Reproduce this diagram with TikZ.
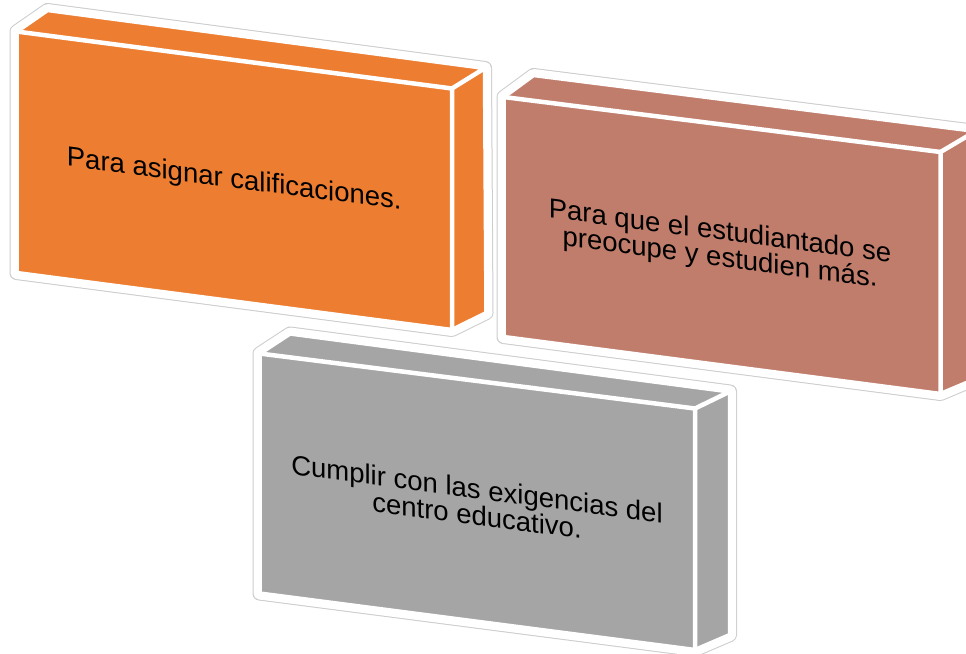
\documentclass[tikz,border=0pt]{standalone}
\usepackage{fontspec}
\setmainfont{Liberation Sans}
\definecolor{boxorange}{RGB}{237,125,49}
\definecolor{boxrose}{RGB}{192,125,108}
\definecolor{boxgray}{RGB}{165,165,165}
\tikzset{
  boxhalo/.style={draw=black!20, line width=14pt, line join=round},
  boxhaloin/.style={draw=white, line width=12pt, line join=round},
  boxedge/.style={draw=white, line width=4.5pt, line join=round},
  boxlabel/.style={font=\fontsize{27.5}{26.5}\selectfont, text=black, align=center,
    inner sep=0pt, yslant=-0.1307, transform shape}
}
\newcommand{\cubebox}[2]{%
  \path[boxhalo] (#1btl) -- (#1btr) -- (#1bbr) -- (#1fbr) -- (#1fbl) -- (#1ftl) -- cycle;
  \path[boxhaloin] (#1btl) -- (#1btr) -- (#1bbr) -- (#1fbr) -- (#1fbl) -- (#1ftl) -- cycle;
  \fill[#2] (#1btl) -- (#1btr) -- (#1bbr) -- (#1fbr) -- (#1fbl) -- (#1ftl) -- cycle;
  \path[boxedge] (#1ftl) -- (#1ftr) -- (#1fbr) -- (#1fbl) -- cycle;
  \path[boxedge] (#1ftl) -- (#1btl) -- (#1btr) -- (#1ftr);
  \path[boxedge] (#1btr) -- (#1bbr) -- (#1fbr);
}
\begin{document}
\begin{tikzpicture}[x=1pt,y=-1pt]
\clip (0,0) rectangle (966,653);
\fill[white] (0,0) rectangle (966,653);
% box 1 (orange)
\coordinate (aftl) at (16.5,31.5);
\coordinate (aftr) at (452,88.5);
\coordinate (afbr) at (452,330);
\coordinate (afbl) at (16.5,273);
\coordinate (abtl) at (47.5,10);
\coordinate (abtr) at (485,68);
\coordinate (abbr) at (486.5,313);
\cubebox{a}{boxorange}
\begin{scope}[shift={(234.25,180.75)}]
\node[boxlabel] (t1) at (0,0) {Para asignar calificaciones.};
\end{scope}
% box 2 (rose)
\coordinate (bftl) at (503.5,97);
\coordinate (bftr) at (940.5,152);
\coordinate (bfbr) at (940.5,394);
\coordinate (bfbl) at (503.5,337);
\coordinate (bbtl) at (533.5,75);
\coordinate (bbtr) at (976,131);
\coordinate (bbbr) at (976,379);
\cubebox{b}{boxrose}
\begin{scope}[shift={(720,246)}]
\node[boxlabel] (t2) at (0,0) {Para que el estudiantado se\\preocupe y estudien más.};
\end{scope}
% box 3 (gray)
\coordinate (cftl) at (259.5,353.5);
\coordinate (cftr) at (695,408.5);
\coordinate (cfbr) at (695,650);
\coordinate (cfbl) at (259.5,593.5);
\coordinate (cbtl) at (290,333.5);
\coordinate (cbtr) at (730,391.5);
\coordinate (cbbr) at (730,635);
\cubebox{c}{boxgray}
\begin{scope}[shift={(477,502)}]
\node[boxlabel] (t3) at (0,0) {Cumplir con las exigencias del\\centro educativo.};
\end{scope}
\end{tikzpicture}
\end{document}
